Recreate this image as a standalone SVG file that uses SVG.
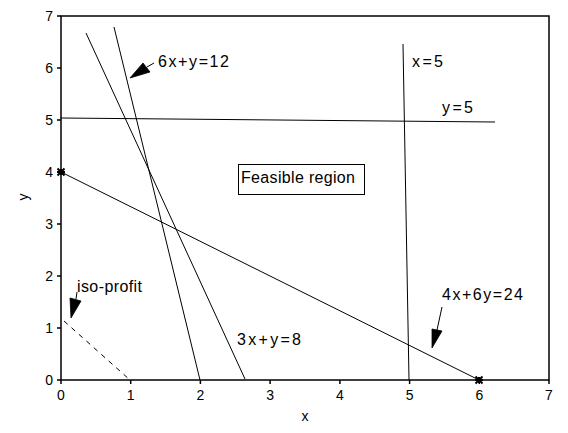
<svg xmlns="http://www.w3.org/2000/svg" width="568" height="433" viewBox="0 0 568 433">
<style>
text{font-family:"Liberation Sans",Arial,sans-serif;fill:#000}
.tick{font-size:14px}
.lab{font-size:16px}
.axis{fill:none;stroke:#000;stroke-width:1.5}
.ln{fill:none;stroke:#000;stroke-width:1}
.dash{fill:none;stroke:#000;stroke-width:1;stroke-dasharray:5,5}
.ah{fill:#000;stroke:#000;stroke-width:0.8}
.star{fill:none;stroke:#000;stroke-width:2}
</style>
<defs>
<path id="star" class="star" d="M-3.5,-3.5L3.5,3.5M-3.5,3.5L3.5,-3.5M-4,0L4,0M0,-3L0,3"/>
</defs>
<rect width="568" height="433" fill="#fff"/>
<g id="axes">
<rect class="axis" x="61" y="16" width="488" height="364"/>
<path class="axis" d="M57,380H61M57,328H61M57,276H61M57,224H61M57,172H61M57,120H61M57,68H61M57,16H61"/>
<path class="axis" d="M61,380V384M130.7,380V384M200.4,380V384M270.1,380V384M339.9,380V384M409.6,380V384M479.3,380V384M549,380V384"/>
<g class="tick" text-anchor="end">
<text x="53" y="385">0</text>
<text x="53" y="333">1</text>
<text x="53" y="281">2</text>
<text x="53" y="229">3</text>
<text x="53" y="177">4</text>
<text x="53" y="125">5</text>
<text x="53" y="73">6</text>
<text x="53" y="21">7</text>
</g>
<g class="tick" text-anchor="middle">
<text x="61" y="400">0</text>
<text x="130.7" y="400">1</text>
<text x="200.4" y="400">2</text>
<text x="270.1" y="400">3</text>
<text x="339.9" y="400">4</text>
<text x="409.6" y="400">5</text>
<text x="479.3" y="400">6</text>
<text x="549" y="400">7</text>
</g>
<text class="tick" x="305" y="421" text-anchor="middle">x</text>
<text class="tick" x="0" y="0" text-anchor="middle" transform="translate(28,197) rotate(-90)">y</text>
</g>
<g id="connectors">
<path class="ln" d="M86,33L245,379"/>
<path class="ln" d="M114,27L200,380"/>
<path class="ln" d="M61,118L495,122"/>
<path class="ln" d="M403,44L409,380"/>
<path class="ln" d="M61,172L479,380"/>
<path class="dash" d="M64,321L130,380"/>
<polygon class="ah" points="130,78 143,63 150,72"/>
<path class="ln" d="M147,67L154,63"/>
<polygon class="ah" points="71,318 70,298 81,301"/>
<path class="ln" d="M76,299L77,292"/>
<polygon class="ah" points="432,348 432,329 442,331"/>
<path class="ln" d="M437,330L442,307"/>
<use href="#star" x="61" y="172"/>
<use href="#star" x="479" y="380"/>
</g>
<g id="label-6x">
<text class="lab" x="158" y="67" textLength="71" lengthAdjust="spacing">6x+y=12</text>
</g>
<g id="label-x5">
<text class="lab" x="412" y="67" textLength="31" lengthAdjust="spacing">x=5</text>
</g>
<g id="label-y5">
<text class="lab" x="442" y="113" textLength="31" lengthAdjust="spacing">y=5</text>
</g>
<g id="feasible">
<rect x="238.5" y="164.5" width="126" height="30" fill="#fff" stroke="#000" stroke-width="1"/>
<text class="lab" x="241" y="183" textLength="114" lengthAdjust="spacing">Feasible region</text>
</g>
<g id="label-3x">
<text class="lab" x="237" y="345" textLength="64" lengthAdjust="spacing">3x+y=8</text>
</g>
<g id="label-4x">
<text class="lab" x="442" y="300" textLength="81" lengthAdjust="spacing">4x+6y=24</text>
</g>
<g id="label-iso">
<text class="lab" x="77" y="292" textLength="65" lengthAdjust="spacing">iso-profit</text>
</g>
</svg>
